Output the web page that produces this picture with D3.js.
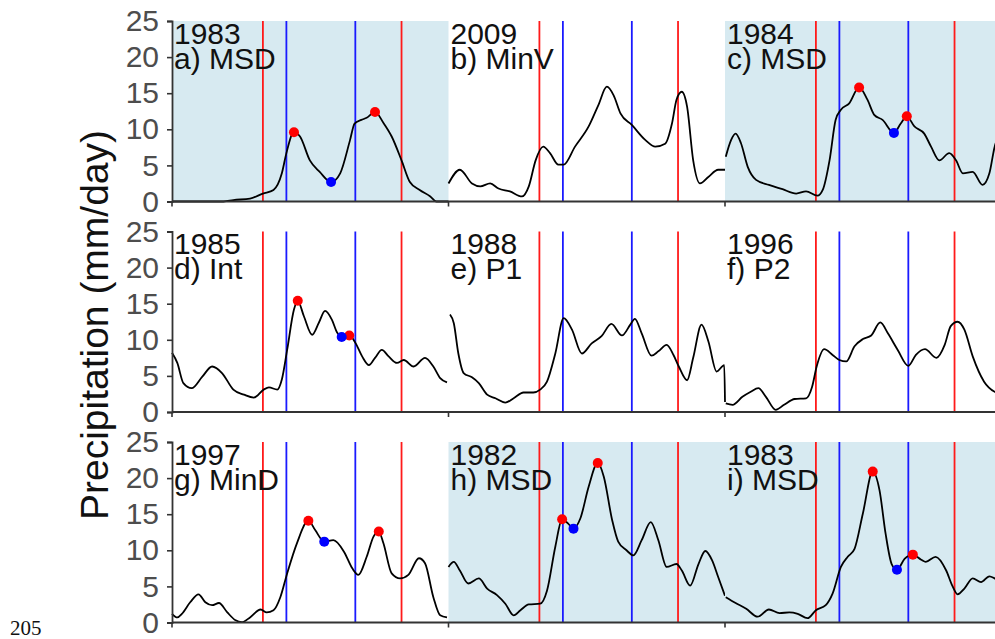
<!DOCTYPE html>
<html>
<head>
<meta charset="utf-8">
<script src="https://cdn.jsdelivr.net/npm/d3@7"></script>
<style>
  html, body { margin: 0; padding: 0; background: #fff; }
  svg { display: block; }
</style>
</head>
<body>
<svg id="chart" width="995" height="639"></svg>
<script>
// ---------- DATA ----------
const panelLabels = ["a) MSD", "b) MinV", "c) MSD", "d) Int", "e) P1", "f) P2", "g) MinD", "h) MSD", "i) MSD"];
const panelYears = ["1983", "2009", "1984", "1985", "1988", "1996", "1997", "1982", "1983"];
const panelShaded = [true, false, true, false, false, false, false, true, true];
const yTicks = [0, 5, 10, 15, 20, 25];
const redLineDays = [120, 303];
const blueLineDays = [151, 242];

// [day of year, precipitation mm/day]
const seriesA = [[0,0],[68,0],[81,0.2],[103,0.4],[120,1.1],[134,1.6],[145,3.9],[151,6.7],[161,9.6],[169,9.0],[182,5.7],[195,4.1],[210,2.7],[222,3.9],[235,8.5],[241,10.8],[250,11.3],[257,11.6],[268,12.4],[279,10.9],[290,9.0],[303,5.7],[314,2.7],[327,1.6],[341,0.7],[349,0],[365,0]];
const seriesB = [[0,2.5],[15,4.4],[31,2.5],[42,2.1],[55,2.5],[66,1.8],[81,1.4],[97,0.7],[106,2.1],[115,5.7],[125,7.6],[134,6.7],[145,5.1],[152,5.1],[167,7.6],[185,10.4],[198,13.4],[209,15.9],[218,14.7],[227,12.2],[242,10.6],[260,8.5],[273,7.6],[286,8.0],[295,10.8],[301,14.1],[308,15.2],[315,13.1],[323,5.7],[332,2.5],[343,3.4],[356,4.4],[365,4.4]];
const seriesC = [[1,6.2],[8,8.5],[14,9.4],[21,8.1],[30,4.8],[41,3.0],[58,2.3],[76,1.7],[94,1.1],[107,1.4],[122,0.8],[129,1.6],[138,5.7],[146,11.3],[153,12.7],[164,13.6],[177,15.8],[188,14.1],[197,12.0],[208,11.3],[223,9.5],[232,10.8],[240,11.8],[250,10.4],[263,9.4],[272,7.6],[283,5.7],[296,6.7],[305,5.7],[314,3.9],[327,4.1],[340,2.3],[349,3.9],[356,7.6],[365,9.5]];
const seriesD = [[0,8.2],[7,6.8],[15,4.0],[26,3.3],[40,4.9],[53,6.3],[66,5.4],[81,3.1],[95,2.4],[108,2.0],[121,3.1],[128,3.4],[139,3.1],[145,4.5],[152,8.6],[161,14.2],[166,15.4],[174,13.3],[185,10.7],[194,12.4],[202,14.0],[211,12.8],[218,11.0],[224,10.4],[234,10.6],[242,9.6],[251,7.7],[260,6.5],[268,7.5],[277,8.6],[286,7.7],[297,6.8],[306,7.2],[319,6.3],[334,7.5],[345,6.3],[354,4.7],[363,4.1]];
const seriesE = [[2,13.5],[7,12.3],[13,8.1],[20,5.4],[31,4.8],[40,4.0],[51,2.4],[62,1.9],[75,1.3],[86,1.9],[99,2.7],[112,2.7],[121,3.1],[130,4.2],[141,8.1],[152,13.0],[163,11.4],[176,8.1],[189,9.5],[202,10.5],[215,12.2],[229,10.6],[240,12.1],[246,12.9],[255,10.9],[268,7.8],[277,8.4],[288,9.3],[297,7.9],[304,6.3],[315,4.4],[323,7.5],[334,12.1],[343,9.8],[354,5.6],[364,6.5],[365,1.4]];
const seriesF = [[1,1.2],[10,1.0],[23,2.1],[34,2.8],[44,3.3],[54,2.1],[67,0.3],[78,1.0],[92,1.8],[107,1.9],[115,3.5],[121,6.3],[131,8.7],[142,7.9],[151,7.2],[160,7.0],[171,9.1],[182,10.1],[193,10.6],[205,12.4],[215,10.9],[228,8.6],[242,6.4],[252,7.9],[264,8.7],[279,7.5],[290,9.3],[298,11.9],[307,12.5],[316,11.4],[327,7.7],[342,4.2],[356,2.8],[365,2.5]];
const seriesG = [[0,1.2],[7,0.7],[13,1.2],[24,2.8],[35,3.9],[44,2.8],[53,2.4],[62,2.7],[73,1.4],[84,0.3],[92,0.05],[103,0.7],[117,1.8],[125,1.4],[134,1.7],[143,3.5],[152,6.8],[165,11.0],[180,14.1],[189,12.8],[201,11.2],[213,11.4],[227,9.8],[238,7.5],[246,6.6],[257,9.1],[266,11.9],[273,12.6],[279,11.0],[290,6.8],[301,6.1],[312,6.6],[326,8.9],[334,8.2],[345,3.5],[354,1.0],[363,0.7]];
const seriesH = [[0,7.7],[7,8.4],[15,7.2],[26,5.4],[40,6.1],[51,4.7],[64,3.8],[75,2.6],[86,1.0],[95,1.7],[106,2.5],[121,2.6],[130,4.4],[141,10.5],[150,14.3],[158,13.7],[165,13.0],[174,14.4],[185,18.8],[197,22.1],[205,20.2],[216,14.2],[224,11.2],[235,10.0],[244,9.3],[255,11.4],[267,13.9],[277,11.4],[288,7.7],[301,8.1],[308,7.2],[319,5.1],[330,8.1],[339,9.9],[348,8.6],[356,6.3],[365,3.7]];
const seriesI = [[1,3.5],[14,2.7],[28,1.9],[43,0.8],[58,1.8],[72,1.3],[85,1.4],[96,1.2],[109,0.6],[120,1.7],[133,2.4],[142,4.0],[153,7.7],[162,9.1],[171,10.2],[182,15.1],[195,20.9],[204,18.3],[212,12.3],[220,8.1],[227,7.3],[237,8.8],[248,9.4],[259,8.7],[265,8.4],[278,9.1],[292,7.2],[300,5.1],[307,3.9],[316,4.7],[327,6.1],[338,5.6],[349,6.4],[356,6.1],[365,5.5]];

// marked peaks (red) and minima (blue)
const redPoints = [
  [[161,9.6],[268,12.4]], [], [[177,15.8],[240,11.8]],
  [[166,15.4],[234,10.6]], [], [],
  [[180,14.1],[273,12.6]], [[150,14.3],[197,22.1]], [[195,20.9],[248,9.4]]
];
const bluePoints = [
  [[210,2.7]], [], [[223,9.5]],
  [[224,10.4]], [], [],
  [[201,11.2]], [[165,13.0]], [[227,7.3]]
];
const allSeries = [seriesA, seriesB, seriesC, seriesD, seriesE, seriesF, seriesG, seriesH, seriesI];

// ---------- LAYOUT ----------
const svg = d3.select("#chart");
const colLeft = [172, 448.5, 725];
const colWidth = 276.5;
const rowTop = [21, 231.5, 442];
const rowHeight = 180.5;
const axisColor = "#333333";
const sans = "Liberation Sans, Arial, sans-serif";

allSeries.forEach((series, i) => {
  const r = Math.floor(i / 3), c = i % 3;
  const x = d3.scaleLinear().domain([0, 365]).range([colLeft[c], colLeft[c] + colWidth]);
  const y = d3.scaleLinear().domain([0, 25]).range([rowTop[r] + rowHeight, rowTop[r]]);
  const g = svg.append("g");

  if (panelShaded[i]) {
    g.append("rect")
      .attr("x", x(0)).attr("y", y(25))
      .attr("width", x(365) - x(0)).attr("height", y(0) - y(25))
      .attr("fill", "#d7eaf1");
  }

  g.selectAll("line.red").data(redLineDays).join("line")
    .attr("x1", d => x(d)).attr("x2", d => x(d))
    .attr("y1", y(25)).attr("y2", y(0))
    .attr("stroke", "#ff1a1a").attr("stroke-width", 1.8);
  g.selectAll("line.blue").data(blueLineDays).join("line")
    .attr("x1", d => x(d)).attr("x2", d => x(d))
    .attr("y1", y(25)).attr("y2", y(0))
    .attr("stroke", "#1a1aff").attr("stroke-width", 1.8);

  const line = d3.line().x(d => x(d[0])).y(d => y(d[1])).curve(d3.curveMonotoneX);
  g.append("path").datum(series)
    .attr("d", line).attr("fill", "none")
    .attr("stroke", "#000").attr("stroke-width", 1.8)
    .attr("stroke-linejoin", "round");

  g.selectAll("circle.red").data(redPoints[i]).join("circle")
    .attr("cx", d => x(d[0])).attr("cy", d => y(d[1])).attr("r", 5)
    .attr("fill", "#ff0000");
  g.selectAll("circle.blue").data(bluePoints[i]).join("circle")
    .attr("cx", d => x(d[0])).attr("cy", d => y(d[1])).attr("r", 5)
    .attr("fill", "#0000ff");

  const tx = x(0) + 2;
  const label = g.append("text")
    .attr("font-family", sans).attr("font-size", 30)
    .attr("fill", "#111");
  label.append("tspan").attr("x", tx).attr("y", y(25) + 22.5).text(panelYears[i]);
  label.append("tspan").attr("x", tx).attr("y", y(25) + 47.5).text(panelLabels[i]);
});

// axes per row
rowTop.forEach((t, r) => {
  const y = d3.scaleLinear().domain([0, 25]).range([t + rowHeight, t]);
  svg.append("line").attr("x1", colLeft[0]).attr("x2", 995)
    .attr("y1", y(0)).attr("y2", y(0))
    .attr("stroke", axisColor).attr("stroke-width", 1.8);
  colLeft.forEach(cx => {
    svg.append("line").attr("x1", cx).attr("x2", cx)
      .attr("y1", y(0)).attr("y2", y(0) + 5)
      .attr("stroke", axisColor).attr("stroke-width", 1.6);
  });
  const yAxis = d3.axisLeft(y).tickValues(yTicks).tickSize(5).tickPadding(8);
  const ga = svg.append("g").attr("transform", `translate(${colLeft[0]},0)`).call(yAxis);
  ga.select(".domain").attr("stroke", axisColor).attr("stroke-width", 1.8);
  ga.selectAll(".tick line").attr("stroke", axisColor).attr("stroke-width", 1.6);
  ga.selectAll(".tick text")
    .attr("font-family", sans)
    .attr("font-size", 30).attr("fill", "#4d4d4d");
});

svg.append("text")
  .attr("transform", "translate(108,325) rotate(-90)")
  .attr("text-anchor", "middle")
  .attr("font-family", sans)
  .attr("font-size", 39).attr("fill", "#111")
  .text("Precipitation (mm/day)");

svg.append("text").attr("x", 10).attr("y", 635)
  .attr("font-family", "Liberation Serif, Times New Roman, serif")
  .attr("font-size", 21).attr("fill", "#111").text("205");
</script>
</body>
</html>
